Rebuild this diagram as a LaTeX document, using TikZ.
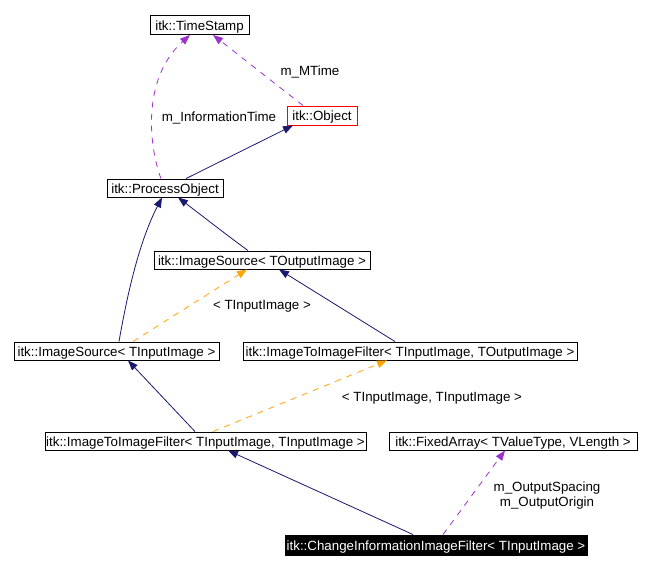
\documentclass[tikz,border=0pt]{standalone}
\usepackage{fontspec}
\setmainfont{Liberation Sans}
\usetikzlibrary{arrows.meta,calc}
\definecolor{navy}{HTML}{191970}
\definecolor{orch}{HTML}{9A32CD}
\definecolor{orng}{HTML}{FFA500}
\begin{document}
\begin{tikzpicture}[x=1pt,y=-1pt,
  font=\fontsize{13.33}{15}\selectfont,
  cls/.style={draw=black,line width=0.9pt,inner sep=0pt,minimum height=18pt,text height=11pt,text depth=0pt},
  inh/.style={navy,line width=0.8pt,-{Triangle[length=10pt,width=7.5pt]}},
  tpl/.style={orng,line width=0.8pt,dash pattern=on 6pt off 6pt,-{Triangle[length=10pt,width=7.5pt]}},
  use/.style={orch,line width=0.8pt,dash pattern=on 6pt off 6pt,-{Triangle[length=10pt,width=7.5pt]}},
  lbl/.style={inner sep=0pt,align=center,text height=9.6pt,text depth=0pt}]
\useasboundingbox[fill=white] (0,0) rectangle (650,569);
% nodes
\node[cls,minimum width=99pt,minimum height=19pt] (ts) at (199.5,25) {itk::TimeStamp};
\node[cls,draw=red,minimum width=70pt,minimum height=19pt] (obj) at (322,115.5) {itk::Object};
\node[cls,minimum width=116pt] (po) at (165,188) {itk::ProcessObject};
\node[cls,minimum width=216pt] (isout) at (262,260) {itk::ImageSource< TOutputImage >};
\node[cls,minimum width=205pt] (isin) at (116.5,351) {itk::ImageSource< TInputImage >};
\node[cls,minimum width=334pt] (itifto) at (410,351) {itk::ImageToImageFilter< TInputImage, TOutputImage >};
\node[cls,minimum width=321pt] (itifti) at (205.5,441) {itk::ImageToImageFilter< TInputImage, TInputImage >};
\node[cls,minimum width=248pt] (fa) at (513,441) {itk::FixedArray< TValueType, VLength >};
\node[cls,fill=black,text=white,minimum width=302pt,minimum height=20pt] (cii) at (436,545) {itk::ChangeInformationImageFilter< TInputImage >};
% labels
\node[lbl] (lmt) at (310,71) {m\_MTime};
\node[lbl] (lit) at (219,117) {m\_InformationTime};
\node[lbl] (lti) at (262,305) {< TInputImage >};
\node[lbl] (ltt) at (432,397) {< TInputImage, TInputImage >};
\node[lbl] (los) at (547,487) {m\_OutputSpacing};
\node[lbl] (loo) at (547,501.5) {m\_OutputOrigin};
% edges
\draw[inh] ([xshift=21pt]po.north) -- ([xshift=-29pt]obj.south);
\draw[use] ([xshift=-4pt]po.north) .. controls (150,150) and (140,80) .. ([xshift=-9.5pt]ts.south);
\draw[use] ([xshift=-19pt]obj.north) -- ([xshift=13.5pt]ts.south);
\draw[inh] ([xshift=-14pt]isout.north) .. controls (228,236) and (205,218) .. ([xshift=13pt]po.south);
\draw[inh] ([xshift=2.5pt]isin.north) .. controls (128,290) and (140,240) .. ([xshift=-3pt]po.south);
\draw[tpl] ([xshift=16.5pt]isin.north) -- ([xshift=-15pt]isout.south);
\draw[inh] ([xshift=-15pt]itifto.north) -- ([xshift=17pt]isout.south);
\draw[inh] ([xshift=-10.5pt]itifti.north) -- ([xshift=11.5pt]isin.south);
\draw[tpl] ([xshift=7.5pt]itifti.north) -- ([xshift=-23pt]itifto.south);
\draw[inh] ([xshift=-23pt]cii.north) -- ([xshift=22.5pt]itifti.south);
\draw[use] ([xshift=7pt]cii.north) -- ([xshift=-8pt]fa.south);
\end{tikzpicture}
\end{document}
